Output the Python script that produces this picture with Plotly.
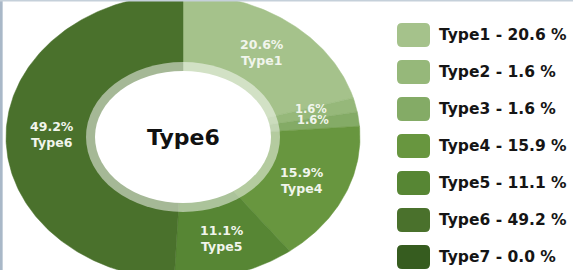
import numpy as np
import plotly.graph_objects as go

# ---- data ----
categories = ["Type1", "Type2", "Type3", "Type4", "Type5", "Type6", "Type7"]
values = [20.6, 1.6, 1.6, 15.9, 11.1, 49.2, 0.0]
center_label = "Type6"
colors = ["#a5c28b", "#96b87a", "#84ab66", "#68963f", "#578634", "#4a712c", "#365c1f"]

# ---- geometry (pixel-like coordinate system) ----
W, H = 573, 270
cx, cy = 183, 137
a_out, b_out = 177, 143
a_ring, b_ring = 97, 75
a_hole, b_hole = 88, 66
label_r = 0.74

fig = go.Figure()

total = sum(values)
start = 0.0
mids = []
for name, v, c in zip(categories, values, colors):
    frac = v / total
    end = start + frac
    mids.append((start + end) / 2)
    if frac > 0:
        th = np.linspace(start, end, max(int(frac * 400), 4)) * 2 * np.pi
        xs = np.concatenate([[cx], cx + a_out * np.sin(th), [cx]])
        ys = np.concatenate([[cy], cy - b_out * np.cos(th), [cy]])
        fig.add_trace(go.Scatter(x=xs, y=ys, fill="toself", fillcolor=c,
                                 mode="lines", line=dict(color=c, width=0.5),
                                 hoverinfo="skip", showlegend=False))
    start = end

# translucent ring and white hole
fig.add_shape(type="circle", xref="x", yref="y",
              x0=cx - a_ring, x1=cx + a_ring, y0=cy - b_ring, y1=cy + b_ring,
              fillcolor="rgba(255,255,255,0.5)", line=dict(width=0), layer="above")
fig.add_shape(type="circle", xref="x", yref="y",
              x0=cx - a_hole, x1=cx + a_hole, y0=cy - b_hole, y1=cy + b_hole,
              fillcolor="white", line=dict(width=0), layer="above")

# slice labels
for name, v, m in zip(categories, values, mids):
    if v <= 0:
        continue
    ang = m * 2 * np.pi
    x = cx + a_out * label_r * np.sin(ang)
    y = cy - b_out * label_r * np.cos(ang)
    txt = f"<b>{v:.1f}%</b>" if v < 5 else f"<b>{v:.1f}%<br>{name}</b>"
    fig.add_annotation(x=x, y=y - (4 if v < 5 else 0), xref="x", yref="y", text=txt,
                       showarrow=False,
                       font=dict(family="DejaVu Sans", size=12.5 if v >= 5 else 11.5,
                                 color="#f1f5ec"),
                       align="center")

# center text
fig.add_annotation(x=cx, y=cy, xref="x", yref="y", text=f"<b>{center_label}</b>",
                   showarrow=False, font=dict(family="DejaVu Sans", size=22, color="#111111"))

# legend
lx0, lw, lh = 397, 33, 24
ly0, lstep = 35, 37
rr = 5
for i, (name, v, c) in enumerate(zip(categories, values, colors)):
    yc = ly0 + i * lstep
    x0, x1 = lx0, lx0 + lw
    y0, y1 = yc - lh / 2, yc + lh / 2
    path = (f"M {x0+rr},{y0} L {x1-rr},{y0} Q {x1},{y0} {x1},{y0+rr} "
            f"L {x1},{y1-rr} Q {x1},{y1} {x1-rr},{y1} L {x0+rr},{y1} "
            f"Q {x0},{y1} {x0},{y1-rr} L {x0},{y0+rr} Q {x0},{y0} {x0+rr},{y0} Z")
    fig.add_shape(type="path", path=path, xref="x", yref="y",
                  fillcolor=c, line=dict(width=0))
    fig.add_annotation(x=437, y=yc, xref="x", yref="y", xanchor="left",
                       text=f"<b>{name} - {v:.1f} %</b>", showarrow=False,
                       font=dict(family="DejaVu Sans", size=15.5, color="#151515"))

# thin frame lines like the screenshot edge
fig.add_shape(type="line", xref="paper", yref="paper", x0=0.002, x1=0.002, y0=0, y1=1,
              line=dict(color="#a9b8c8", width=3))
fig.add_shape(type="line", xref="paper", yref="paper", x0=0, x1=1, y0=0.998, y1=0.998,
              line=dict(color="#c5d0da", width=2))

fig.update_xaxes(range=[0, W], visible=False, fixedrange=True)
fig.update_yaxes(range=[H, 0], visible=False, fixedrange=True)
fig.update_layout(width=W, height=H, margin=dict(l=0, r=0, t=0, b=0),
                  plot_bgcolor="white", paper_bgcolor="white", showlegend=False)

fig.write_html("out.html", config={"displayModeBar": False},
               post_script="document.body.style.margin='0';document.body.style.overflow='hidden';")
